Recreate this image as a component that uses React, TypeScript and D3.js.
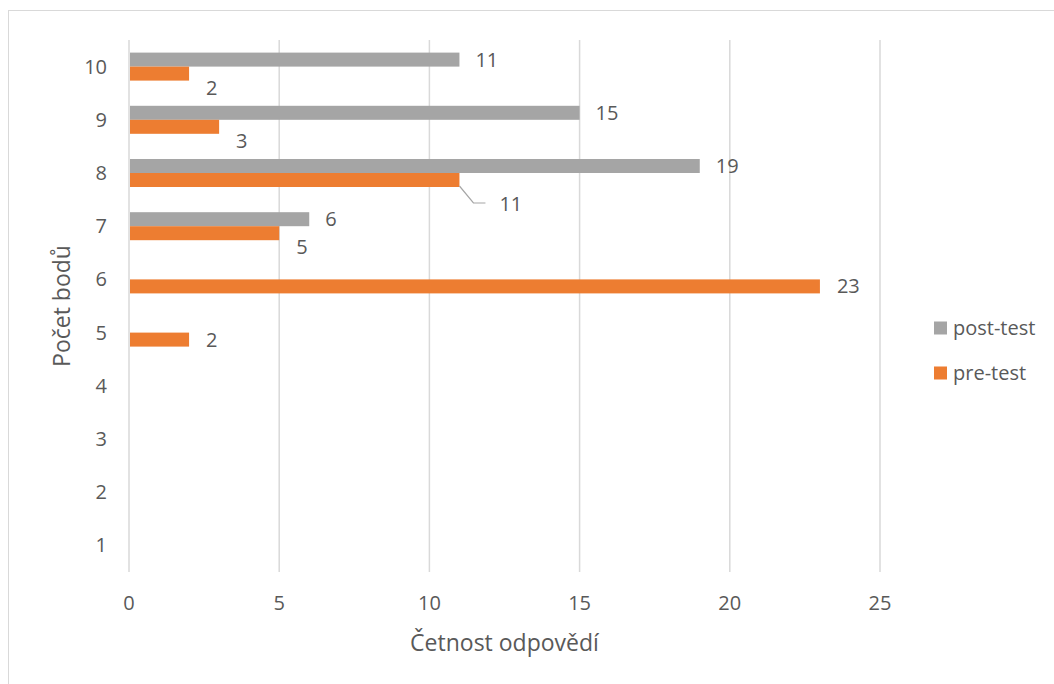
import React from "react";
import * as d3 from "d3";

const categories = ["1", "2", "3", "4", "5", "6", "7", "8", "9", "10"];
const postTest = [0, 0, 0, 0, 0, 0, 6, 19, 15, 11];
const preTest = [0, 0, 0, 0, 2, 23, 5, 11, 3, 2];
const xTicks = [0, 5, 10, 15, 20, 25];
const seriesNames = ["post-test", "pre-test"];
const seriesColors = ["#a5a5a5", "#ed7d31"];
// label nudges for pre-test labels (dx, dy) keyed by category
const preLabelNudge: Record<string, [number, number]> = {
  "10": [0, 14],
  "9": [0, 14],
  "7": [0, 14],
  "8": [23, 24],
};

const W = 1054;
const H = 684;
const font = "'Open Sans', sans-serif";
const textColor = "#595959";

export default function App() {
  const left = 129;
  const right = 880;
  const top = 40;
  const bottom = 572;
  const x = d3.scaleLinear().domain([0, 25]).range([left, right]);
  const y = d3
    .scaleBand<string>()
    .domain([...categories].reverse())
    .range([top, bottom]);
  const bw = y.bandwidth();
  const barH = bw / 3.8;
  const inner = d3
    .scaleBand<string>()
    .domain(seriesNames)
    .range([bw / 2 - barH, bw / 2 + barH]);

  return (
    <svg
      width={W}
      height={H}
      style={{ position: "absolute", left: 0, top: 0, background: "#fff" }}
      fontFamily={font}
    >
      <rect x={8.5} y={10.5} width={W + 20} height={H + 20} fill="#fff" stroke="#d9d9d9" />
      {xTicks.map((t) => (
        <line key={t} x1={x(t)} x2={x(t)} y1={top} y2={bottom} stroke="#d9d9d9" strokeWidth={1.5} />
      ))}
      {categories.map((c, i) => {
        const yc = y(c)!;
        const pv = postTest[i];
        const rv = preTest[i];
        const py = yc + inner("post-test")!;
        const ry = yc + inner("pre-test")!;
        const nudge = preLabelNudge[c] || [0, 0];
        const lblX = x(rv) + 17 + nudge[0];
        const lblY = ry + barH / 2 + nudge[1];
        return (
          <g key={c}>
            {pv > 0 && (
              <>
                <rect x={x(0) + 1} y={py} width={x(pv) - x(0) - 1} height={barH} fill={seriesColors[0]} />
                <text x={x(pv) + 16} y={py + barH / 2} dy="0.35em" fontSize={20} fill={textColor}>
                  {pv}
                </text>
              </>
            )}
            {rv > 0 && (
              <>
                <rect x={x(0) + 1} y={ry} width={x(rv) - x(0) - 1} height={barH} fill={seriesColors[1]} />
                {c === "8" && (
                  <polyline
                    points={`${x(rv)},${ry + barH - 1} ${x(rv) + 14},${lblY - 1} ${x(rv) + 26},${lblY - 1}`}
                    fill="none"
                    stroke="#a6a6a6"
                    strokeWidth={1.2}
                  />
                )}
                <text x={lblX} y={lblY} dy="0.35em" fontSize={20} fill={textColor}>
                  {rv}
                </text>
              </>
            )}
            <text x={107} y={yc + bw / 2} dy="0.35em" textAnchor="end" fontSize={20} fill={textColor}>
              {c}
            </text>
          </g>
        );
      })}
      {xTicks.map((t) => (
        <text key={t} x={x(t)} y={603} dy="0.35em" textAnchor="middle" fontSize={20} fill={textColor}>
          {t}
        </text>
      ))}
      <text x={(left + right) / 2} y={643} dy="0.35em" textAnchor="middle" fontSize={23} fill={textColor}>
        Četnost odpovědí
      </text>
      <text
        transform={`translate(62,${(top + bottom) / 2}) rotate(-90)`}
        dy="0.35em"
        textAnchor="middle"
        fontSize={23}
        fill={textColor}
      >
        Počet bodů
      </text>
      {seriesNames.map((s, i) => (
        <g key={s} transform={`translate(934,${328 + i * 45})`}>
          <rect x={0} y={-6.5} width={13} height={13} fill={seriesColors[i]} />
          <text x={19} y={0} dy="0.35em" fontSize={20} fill={textColor}>
            {s}
          </text>
        </g>
      ))}
    </svg>
  );
}
